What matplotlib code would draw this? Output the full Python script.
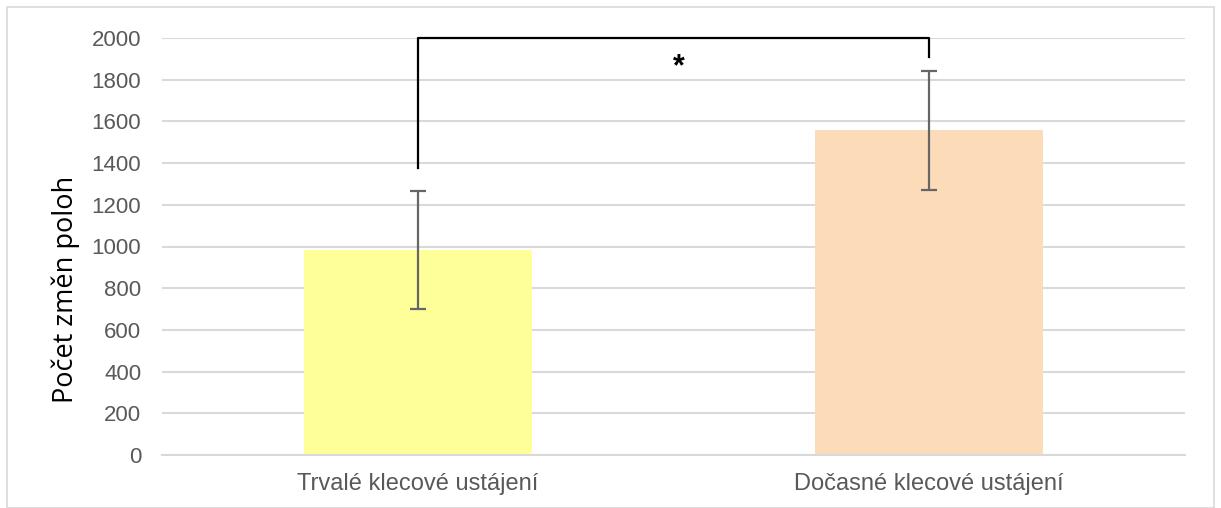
import matplotlib
matplotlib.use("Agg")
import matplotlib.pyplot as plt
from matplotlib.patches import Rectangle

categories = ["Trvalé klecové ustájení", "Dočasné klecové ustájení"]
values = [983, 1558]
errors = [285, 285]
bar_colors = ["#FFFF99", "#FCDBB9"]
yticks = [0, 200, 400, 600, 800, 1000, 1200, 1400, 1600, 1800, 2000]
bracket_top = 2000
bracket_left_bottom = 1375
bracket_right_bottom = 1908
ylabel = "Počet změn poloh"

plt.rcParams['font.family'] = ['Liberation Sans', 'DejaVu Sans']

fig = plt.figure(figsize=(12.21, 5.08), dpi=100)
ax = fig.add_axes([162/1221, 1 - 455/508, (1185-162)/1221, (455-38)/508])

x = [0, 1]
ax.bar(x, values, width=0.445, color=bar_colors, zorder=2)
ax.errorbar(x, values, yerr=errors, fmt='none', ecolor='#666666', elinewidth=1.6,
            capsize=6, capthick=1.6, zorder=3)

ax.set_xlim(-0.5, 1.5)
ax.set_ylim(0, 2000)
ax.set_yticks(yticks)
ax.set_xticks(x)
ax.set_xticklabels(categories)
ax.tick_params(axis='y', length=0, labelsize=16, colors='#595959', pad=15)
ax.tick_params(axis='x', length=0, labelsize=17, colors='#595959', pad=13)
ax.grid(axis='y', color='#D9D9D9', linewidth=1.5, zorder=0)
ax.set_axisbelow(True)
for s in ['top', 'right', 'left']:
    ax.spines[s].set_visible(False)
ax.spines['bottom'].set_color('#D9D9D9')
ax.spines['bottom'].set_linewidth(1.5)
ax.set_ylabel(ylabel, fontsize=19.5, color='#000000',
              fontfamily=['Open Sans', 'DejaVu Sans'])
ax.yaxis.set_label_coords(-0.080, 0.396)

# significance bracket
ax.plot([x[0], x[0], x[1], x[1]],
        [bracket_left_bottom, bracket_top, bracket_top, bracket_right_bottom],
        color='black', linewidth=1.6, clip_on=False, zorder=4)
ax.text(0.51, 1860, "*", ha='center', va='center', fontsize=22, color='black',
        fontweight='bold')

# outer frame
fig.patches.append(Rectangle((7/1221, 0.0), 1207/1221, 1 - 7/508, transform=fig.transFigure,
                             fill=False, edgecolor='#D9D9D9', linewidth=1.2))

fig.savefig("out.png", dpi=100)
